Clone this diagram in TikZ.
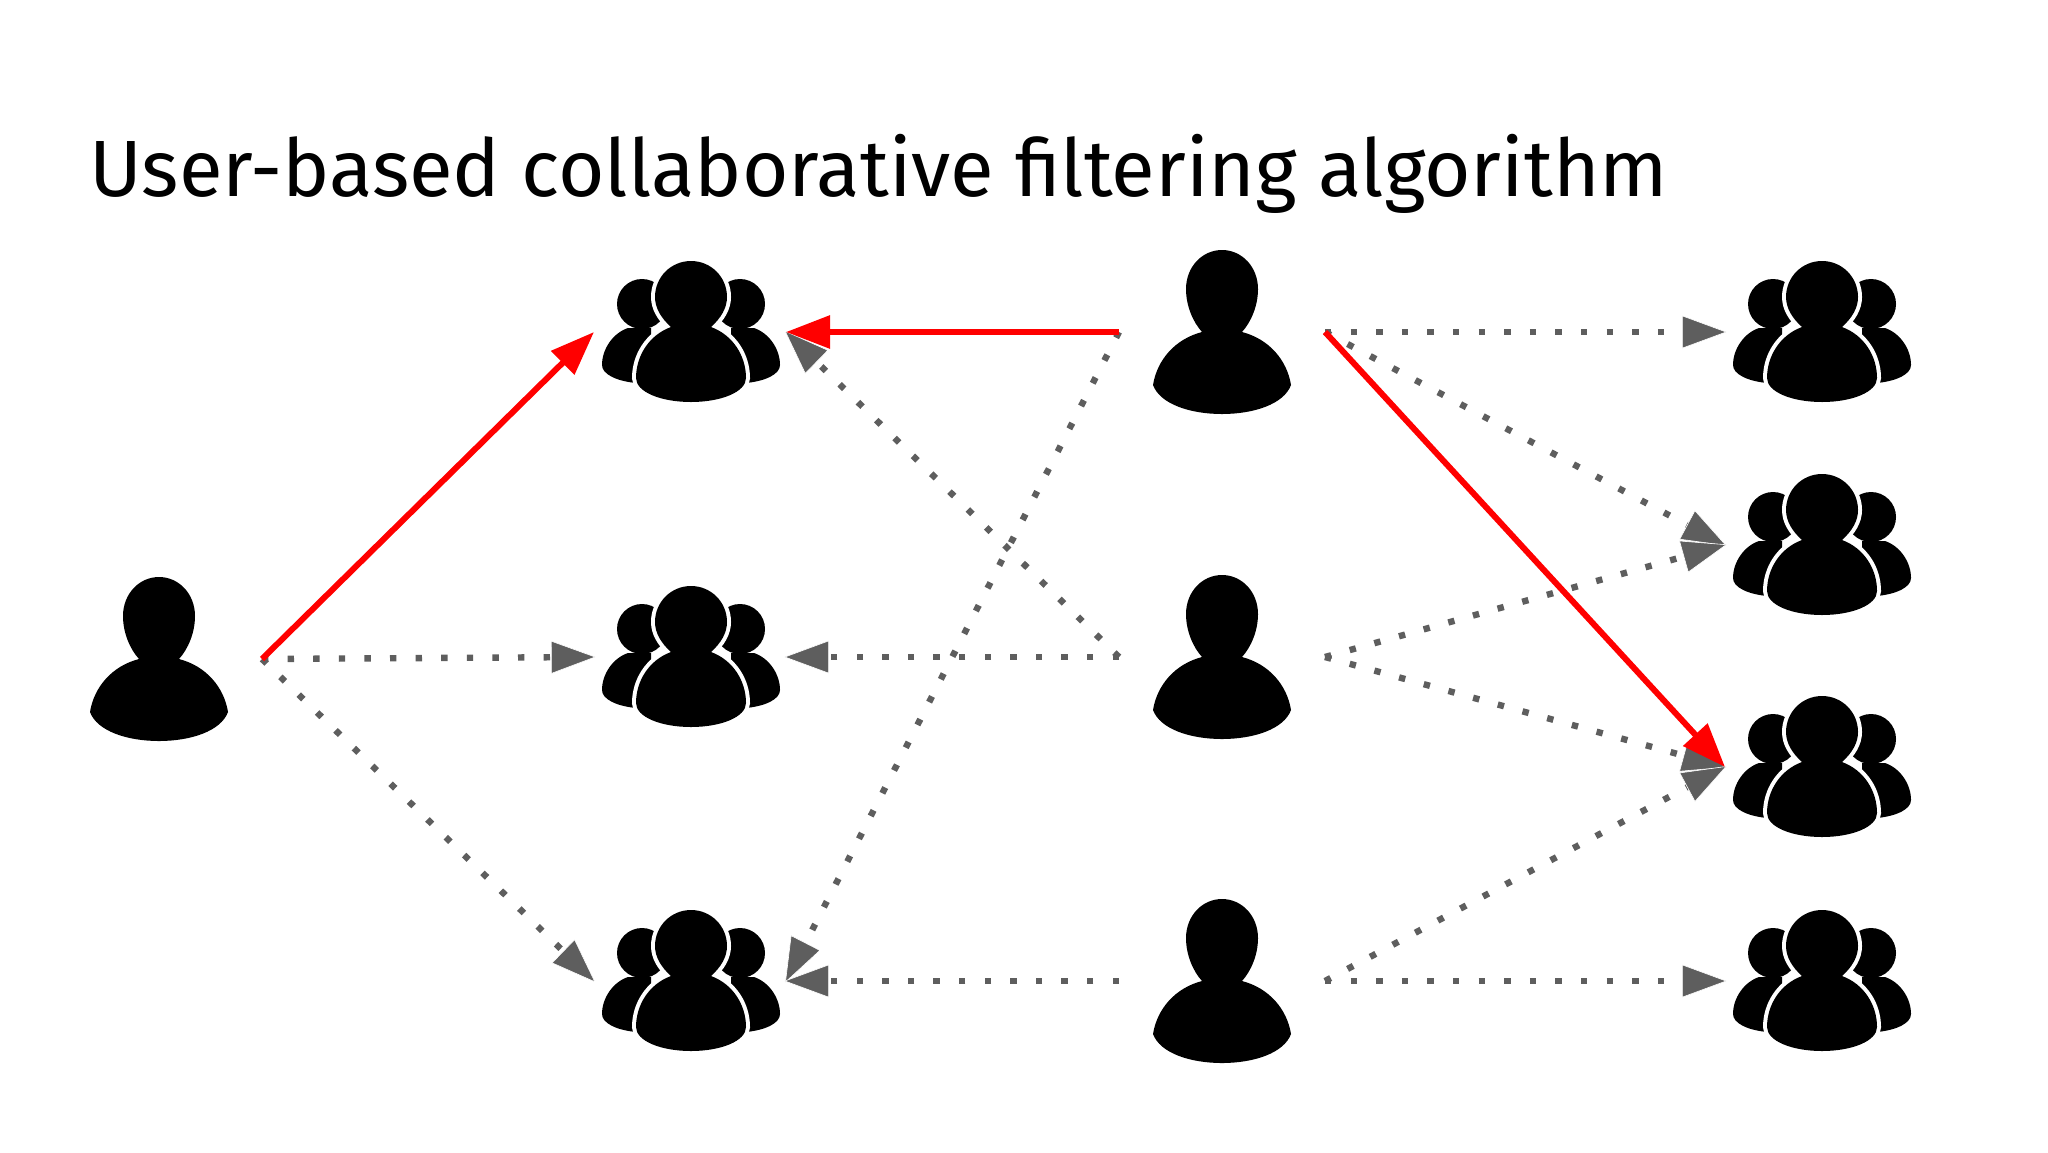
\documentclass[tikz,border=0pt]{standalone}
\usepackage{fontspec}
\setmainfont{Fira Sans}
\usetikzlibrary{arrows.meta}
\newcommand{\usericon}[3]{%
  % #1 name, #2 x, #3 y
  \node[iconbox,minimum width=103pt] (#1) at (#2,#3) {};
  \fill[shift={(#2,#3)}] (-20,0)
    .. controls (-29,-10) and (-36,-26) .. (-36,-43)
    .. controls (-36,-65) and (-20,-82) .. (0,-82)
    .. controls (20,-82) and (36,-65) .. (36,-43)
    .. controls (36,-26) and (29,-10) .. (20,0)
    .. controls (47,7) and (65,28) .. (69,53)
    .. controls (62,72) and (32,82) .. (0,82)
    .. controls (-32,82) and (-62,72) .. (-69,53)
    .. controls (-65,28) and (-47,7) .. (-20,0) -- cycle;
}
\newcommand{\groupicon}[3]{%
  % #1 name, #2 x, #3 y
  \node[iconbox,minimum width=96pt] (#1) at (#2-1,#3) {};
  \begin{scope}[shift={(#2,#3)}]
    \foreach \side in {-1,1} {
      \fill[xscale=\side] (40,-4) -- (63,-4)
        .. controls (78,1) and (89,17) .. (89,33)
        .. controls (89,42) and (75,49) .. (55,51) -- (40,51) -- cycle;
      \fill[xscale=\side] (49,-28) circle [radius=25];
    }
    \fill[preaction={draw=white,line width=4pt}] (-20,-5)
      .. controls (-30,-14) and (-36,-24) .. (-36,-35)
      .. controls (-36,-55) and (-20,-71) .. (0,-71)
      .. controls (20,-71) and (36,-55) .. (36,-35)
      .. controls (36,-24) and (30,-14) .. (20,-5)
      .. controls (42,3) and (55,24) .. (55,46)
      .. controls (55,60) and (30,70) .. (0,70)
      .. controls (-30,70) and (-55,60) .. (-55,46)
      .. controls (-55,24) and (-42,3) .. (-20,-5) -- cycle;
  \end{scope}
}

\begin{document}
\begin{tikzpicture}[x=0.5pt,y=-0.5pt]

% link and icon styles
\tikzset{
  iconbox/.style={inner sep=0pt, outer sep=0pt, minimum height=75pt},
  simlink/.style={draw=black!63, line width=3.2pt, dash pattern=on 3.2pt off 9.6pt,
    -{Triangle[length=22.5pt,width=16.5pt,color=white,fill=black!63,line width=0.3pt,sep=-1pt]}},
  picklink/.style={draw=red, line width=3pt,
    -{Triangle[length=22pt,width=16pt,fill=red]}},
}

\useasboundingbox (0,0) rectangle (2048,1152);

\node[anchor=base west, inner sep=0pt, font=\fontsize{39.9pt}{39.9pt}\selectfont] (title) at (89,196)
  {User-based collaborative filtering algorithm};

% ---------------- Left user ----------------
\usericon{target}{159}{659}

% ---------------- Items of the target ----------------
\groupicon{itemA}{691}{332}
\groupicon{itemB}{691}{657}
\groupicon{itemC}{691}{981}

% ---------------- Similar users ----------------
\usericon{userA}{1222}{332}
\usericon{userB}{1222}{657}
\usericon{userC}{1222}{981}

% ---------------- Items on the right ----------------
\groupicon{recA}{1822}{332}
\groupicon{recB}{1822}{545}
\groupicon{recC}{1822}{767}
\groupicon{recD}{1822}{981}

% dotted links
\draw[simlink] (target.east) -- (itemB.west);
\draw[simlink] (target.east) -- (itemC.west);
\draw[simlink] (userA.west) -- (itemC.east);
\draw[simlink] (userB.west) -- (itemA.east);
\draw[simlink] (userB.west) -- (itemB.east);
\draw[simlink] (userC.west) -- (itemC.east);
\draw[simlink] (userA.east) -- (recA.west);
\draw[simlink] (userA.east) -- (recB.west);
\draw[simlink] (userB.east) -- (recB.west);
\draw[simlink] (userB.east) -- (recC.west);
\draw[simlink] (userC.east) -- (recC.west);
\draw[simlink] (userC.east) -- (recD.west);

% red links
\draw[picklink] (target.east) -- (itemA.west);
\draw[picklink] (userA.west) -- (itemA.east);
\draw[picklink] (userA.east) -- (recC.west);

\end{tikzpicture}
\end{document}
